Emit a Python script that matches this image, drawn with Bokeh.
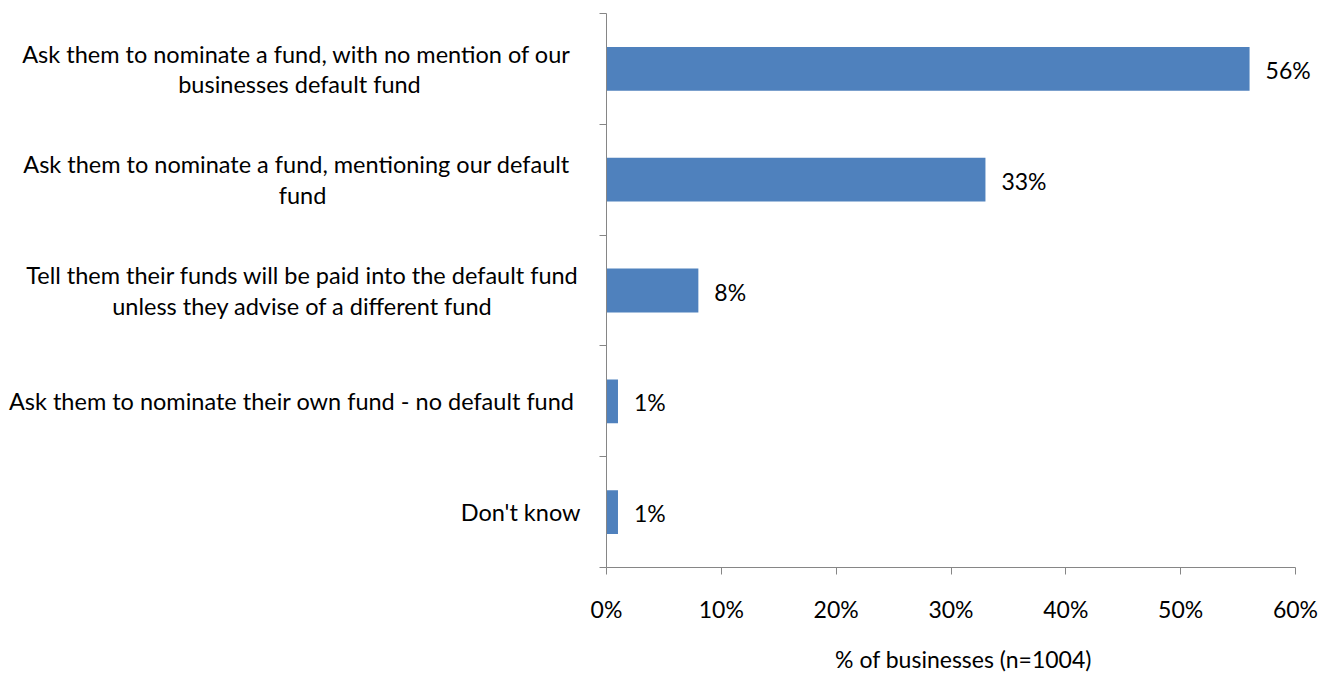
from bokeh.plotting import figure
from bokeh.layouts import row
from bokeh.models import (ColumnDataSource, Range1d, FixedTicker, NumeralTickFormatter, LabelSet)
from bokeh.core.properties import value
from bokeh.embed import file_html
from bokeh.resources import INLINE

categories = [
    "Ask them to nominate  a fund, with  no mention of our\nbusinesses  default fund",
    "Ask them to nominate  a fund, mentioning  our default\nfund",
    "Tell them their funds will be paid into the default fund\nunless they advise of a different fund",
    "Ask them to nominate  their own fund - no default fund",
    "Don't know",
]
values = [0.56, 0.33, 0.08, 0.01, 0.01]
value_labels = ["56%", "33%", "8%", "1%", "1%"]
x_ticks = [0, 0.1, 0.2, 0.3, 0.4, 0.5, 0.6]

FONT = "Lato"
FS = "23px"
GREY = "#868686"
TOP, BOTTOM, H = 13, 105, 675
LEFT_W = 586

n = len(categories)
ypos = [i + 0.5 for i in range(n)]
yr = Range1d(n, 0)

# ---- left panel: category labels ----
lx = [302 if "\n" in c else 580 for c in categories]
la = ["center" if "\n" in c else "right" for c in categories]
lsrc = ColumnDataSource(dict(x=lx, y=ypos, t=categories, a=la))
left = figure(width=LEFT_W, height=H, output_backend="svg", toolbar_location=None,
              x_range=Range1d(0, LEFT_W), y_range=yr,
              min_border_left=0, min_border_right=0, min_border_top=TOP, min_border_bottom=BOTTOM)
left.axis.visible = False
left.grid.grid_line_color = None
left.outline_line_color = None
left.text(x="x", y="y", text="t", text_align="a", text_baseline="middle",
          text_font=value(FONT), text_font_size=value("23.5px"), text_color="#000000",
          text_line_height=1.1, source=lsrc)

# ---- right panel: bars ----
src = ColumnDataSource(dict(y=ypos, v=values, lab=value_labels))
xmax = x_ticks[-1]
px_per_unit = 689 / xmax
right_px = 1320 - 606
p = figure(width=1320 - LEFT_W, height=H, output_backend="svg", toolbar_location=None,
           x_range=Range1d(0, right_px / px_per_unit), y_range=yr,
           min_border_left=606 - LEFT_W, min_border_right=0, min_border_top=TOP, min_border_bottom=BOTTOM)
p.outline_line_color = None
p.grid.grid_line_color = None

p.hbar(y="y", right="v", left=0, height=0.395, source=src, color="#4F81BD", line_color=None)

p.add_layout(LabelSet(x="v", y="y", text="lab", source=src, x_offset=16, y_offset=-1,
                      text_align="left", text_baseline="middle",
                      text_font=value(FONT), text_font_size=value(FS), text_color="#000000"))

p.xaxis.bounds = (0, xmax)
p.xaxis.ticker = FixedTicker(ticks=x_ticks)
p.xaxis.formatter = NumeralTickFormatter(format="0%")
p.xaxis.major_tick_out = 7
p.xaxis.major_tick_in = 0
p.xaxis.minor_tick_line_color = None
p.xaxis.major_label_standoff = 20
p.xaxis.axis_label = "% of businesses (n=1004)"
p.xaxis.axis_label_standoff = 19
p.xaxis.axis_label_text_font_style = "normal"

p.yaxis.ticker = FixedTicker(ticks=list(range(n + 1)))
p.yaxis.major_label_overrides = {i: "" for i in range(n + 1)}
p.yaxis.major_tick_out = 7
p.yaxis.major_tick_in = 0
p.yaxis.minor_tick_line_color = None

for ax in (p.xaxis, p.yaxis):
    ax.axis_line_color = GREY
    ax.major_tick_line_color = GREY
    ax.major_label_text_font = FONT
    ax.major_label_text_font_size = FS
    ax.major_label_text_color = "#000000"
    ax.axis_label_text_font = FONT
    ax.axis_label_text_font_size = FS
    ax.axis_label_text_color = "#000000"
p.yaxis.major_label_standoff = 0

layout = row(left, p)
open("out.html", "w").write(file_html(layout, INLINE))
